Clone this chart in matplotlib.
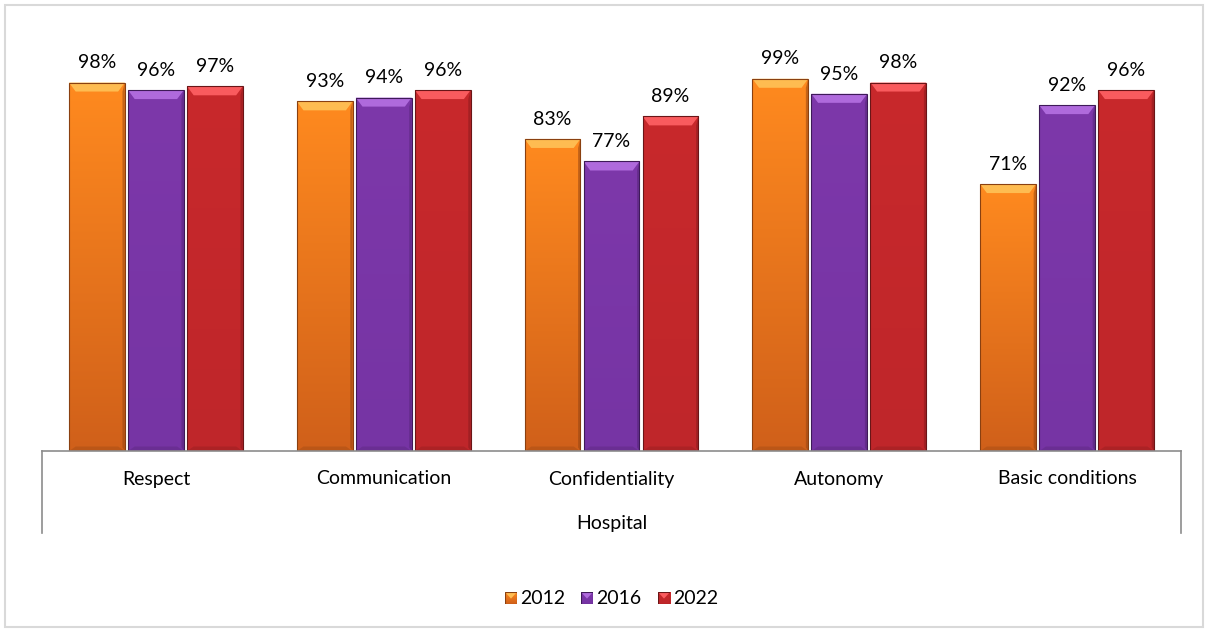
import numpy as np
import matplotlib
matplotlib.use("Agg")
import matplotlib.pyplot as plt
from matplotlib.patches import Rectangle, Polygon
from matplotlib.colors import to_rgb

plt.rcParams['font.family'] = ['Lato', 'DejaVu Sans']

categories = ["Respect", "Communication", "Confidentiality", "Autonomy", "Basic conditions"]
group_label = "Hospital"
years = ["2012", "2016", "2022"]
values_2012 = [98, 93, 83, 99, 71]
values_2016 = [96, 94, 77, 95, 92]
values_2022 = [97, 96, 89, 98, 96]
series = [values_2012, values_2016, values_2022]

# top / bottom shades for each series gradient
top_colors = ["#FF8A1F", "#7D38AA", "#C8292C"]
bottom_colors = ["#D0601A", "#7634A4", "#BF262A"]
edge_colors = ["#8A4010", "#3E1A58", "#6A1517"]

FS = 14

W, H = 1208, 632
fig = plt.figure(figsize=(W / 100, H / 100), dpi=100)
fig.patch.set_facecolor("white")

# outer chart border
fig.add_artist(Rectangle((5 / W, 5 / H), 1198 / W, 622 / H, transform=fig.transFigure,
                         fill=False, edgecolor="#D9D9D9", linewidth=1.5))

left, right, base, top = 42, 1181, 451, 75
ax = fig.add_axes([left / W, (H - base) / H, (right - left) / W, (base - top) / H])
ymax = (base - top) / 3.76
ax.set_xlim(0, len(categories))
ax.set_ylim(0, ymax)
ax.axis("off")

bar_w = 0.245
gap = 0.014
offsets = [-(bar_w + gap), 0, bar_w + gap]


def draw_bar(x0, h, i):
    c_top = np.array(to_rgb(top_colors[i]))
    c_bot = np.array(to_rgb(bottom_colors[i]))
    t = np.linspace(0, 1, 128)[:, None]
    grad = (c_bot * (1 - t) + c_top * t)[:, None, :]
    rect = Rectangle((x0, 0), bar_w, h, facecolor="none", edgecolor="none")
    ax.add_patch(rect)
    im = ax.imshow(grad, extent=(x0, x0 + bar_w, 0, h), origin="lower",
                   aspect="auto", interpolation="bilinear", zorder=2)
    im.set_clip_path(rect)
    # bevel highlights and shadows
    bx = bar_w * 0.12
    by = 2.4
    light = np.clip(c_top + 0.22, 0, 1)
    ax.add_patch(Polygon([(x0, h), (x0 + bar_w, h), (x0 + bar_w - bx, h - by), (x0 + bx, h - by)],
                         closed=True, facecolor=light, edgecolor="none", alpha=0.9, zorder=3))
    dark = c_bot * 0.72
    ax.add_patch(Polygon([(x0 + bar_w, h), (x0 + bar_w, 0), (x0 + bar_w - bx * 0.35, by * 0.4),
                          (x0 + bar_w - bx * 0.35, h - by)],
                         closed=True, facecolor=dark, edgecolor="none", alpha=0.55, zorder=3))
    ax.add_patch(Polygon([(x0, 0), (x0 + bar_w, 0), (x0 + bar_w - bx, by * 0.5), (x0 + bx, by * 0.5)],
                         closed=True, facecolor=dark, edgecolor="none", alpha=0.35, zorder=3))
    ax.add_patch(Rectangle((x0, 0), bar_w, h, facecolor="none",
                           edgecolor=edge_colors[i], linewidth=0.8, zorder=4))
    # soft drop shadow
    ax.add_patch(Rectangle((x0 + 0.004, -0.3), bar_w, h, facecolor="#000000", alpha=0.12,
                           edgecolor="none", zorder=1))


for i, vals in enumerate(series):
    for j, v in enumerate(vals):
        xc = j + 0.5 + offsets[i]
        draw_bar(xc - bar_w / 2, v, i)
        ax.text(xc, v + 3.0, f"{v}%", ha="center", va="bottom", fontsize=FS, color="#000000",
                zorder=5)

# category axis with two label levels
line_kw = dict(color="#8C8C8C", linewidth=1.2, transform=fig.transFigure, clip_on=False)
yb = (H - base) / H
ylow = (H - 533) / H
fig.add_artist(plt.Line2D([left / W, right / W], [yb, yb], **line_kw))
fig.add_artist(plt.Line2D([left / W, left / W], [yb, ylow], **line_kw))
fig.add_artist(plt.Line2D([right / W, right / W], [yb, ylow], **line_kw))

for j, c in enumerate(categories):
    xf = (left + (j + 0.5) * (right - left) / len(categories)) / W
    fig.text(xf, (H - 479) / H, c, ha="center", va="center", fontsize=FS)
fig.text((left + right) / 2 / W, (H - 524) / H, group_label, ha="center", va="center", fontsize=FS)

# legend
leg_y = (H - 598) / H
leg_items_x = [505, 581, 658]
for i, yr in enumerate(years):
    sx = leg_items_x[i]
    lax = fig.add_axes([sx / W, (H - 604) / H, 12 / W, 12 / H])
    lax.axis("off")
    lax.set_xlim(0, 1)
    lax.set_ylim(0, 1)
    c_top = np.array(to_rgb(top_colors[i]))
    c_bot = np.array(to_rgb(bottom_colors[i]))
    t = np.linspace(0, 1, 32)[:, None]
    grad = (c_bot * (1 - t) + c_top * t)[:, None, :]
    lax.imshow(grad, extent=(0, 1, 0, 1), origin="lower", aspect="auto")
    lax.add_patch(Polygon([(0, 1), (1, 1), (0.5, 0.45)], closed=True,
                          facecolor=np.clip(c_top + 0.2, 0, 1), edgecolor="none"))
    lax.add_patch(Rectangle((0, 0), 1, 1, fill=False, edgecolor=edge_colors[i], linewidth=0.8))
    fig.text((sx + 15) / W, leg_y, yr, ha="left", va="center", fontsize=FS)

fig.savefig("out.png", dpi=100, facecolor="white")
